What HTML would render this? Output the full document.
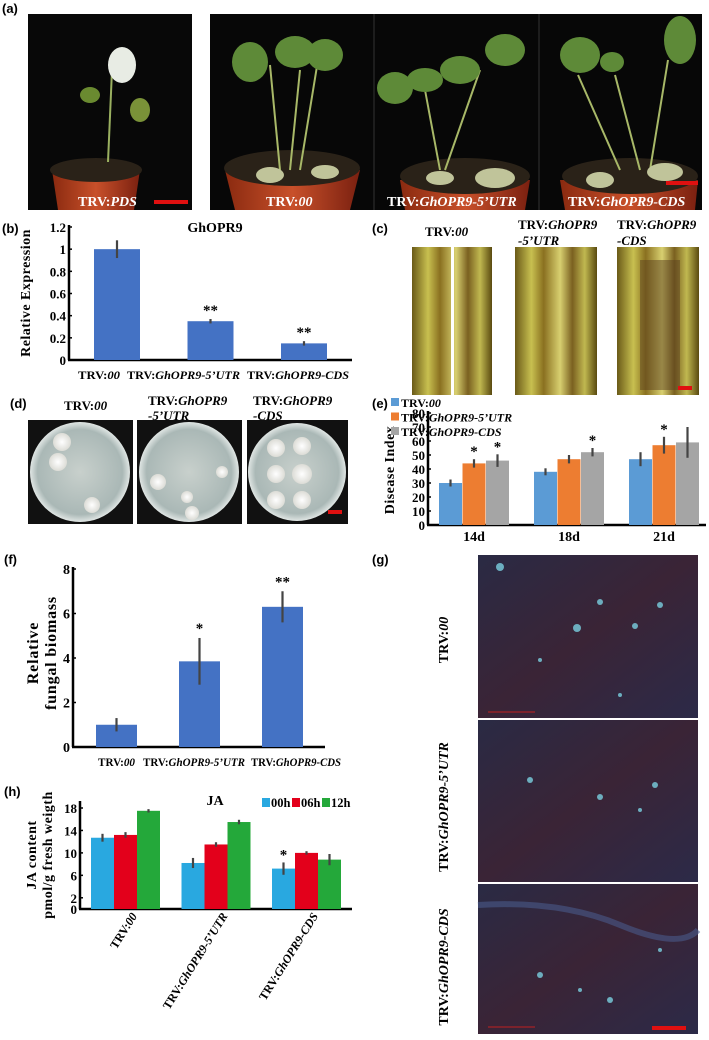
<!DOCTYPE html>
<html><head><meta charset="utf-8"><style>
html,body{margin:0;padding:0;background:#fff}
svg{display:block}
.pl{font-family:"Liberation Sans",sans-serif;font-weight:bold;font-size:13px}
.sr{font-family:"Liberation Serif",serif;font-weight:bold}
</style></head><body>
<svg id="fig" width="709" height="1040" viewBox="0 0 709 1040" xmlns="http://www.w3.org/2000/svg">
<defs>
<linearGradient id="pot" x1="0" x2="1"><stop offset="0" stop-color="#8a2a10"/><stop offset=".5" stop-color="#c8502a"/><stop offset="1" stop-color="#7a2010"/></linearGradient>
<linearGradient id="stem" x1="0" x2="1"><stop offset="0" stop-color="#6a5a18"/><stop offset=".2" stop-color="#c8c050"/><stop offset=".35" stop-color="#8a7020"/><stop offset=".55" stop-color="#d8d070"/><stop offset=".7" stop-color="#7a6020"/><stop offset=".85" stop-color="#c0b850"/><stop offset="1" stop-color="#5a4a10"/></linearGradient>
<radialGradient id="plate"><stop offset="0" stop-color="#c8d0cc"/><stop offset=".85" stop-color="#aab8b6"/><stop offset="1" stop-color="#e0e6e4"/></radialGradient>
<radialGradient id="myc"><stop offset="0" stop-color="#fff"/><stop offset="1" stop-color="#dcdcd6"/></radialGradient>
<linearGradient id="micro" x1="0" y1="0" x2="1" y2="1"><stop offset="0" stop-color="#2a2a44"/><stop offset=".5" stop-color="#3a2436"/><stop offset="1" stop-color="#2c2a48"/></linearGradient>
</defs>

<!-- (a) -->
<text class="pl" x="2" y="13">(a)</text>
<g>
<rect x="28" y="14" width="164" height="196" fill="#080808"/>
<path d="M52 170 L140 170 L134 210 L58 210 Z" fill="url(#pot)"/>
<ellipse cx="96" cy="170" rx="46" ry="12" fill="#2a2218"/>
<line x1="108" y1="162" x2="112" y2="70" stroke="#9ab060" stroke-width="2"/>
<ellipse cx="122" cy="65" rx="14" ry="18" fill="#e8ece4"/>
<ellipse cx="90" cy="95" rx="10" ry="8" fill="#6a8a30"/>
<ellipse cx="140" cy="110" rx="10" ry="12" fill="#7a9238"/>
<text x="78" y="206" font-family="Liberation Serif" font-size="14" font-weight="bold" fill="#fff">TRV:<tspan font-style="italic">PDS</tspan></text>
<rect x="154" y="200" width="34" height="4" fill="#e01010"/>
</g>
<g>
<rect x="210" y="14" width="492" height="196" fill="#070707"/>
<line x1="374" y1="14" x2="374" y2="210" stroke="#333"/>
<line x1="539" y1="14" x2="539" y2="210" stroke="#333"/>
<path d="M225 170 L360 170 L350 210 L235 210 Z" fill="url(#pot)"/>
<ellipse cx="292" cy="168" rx="68" ry="18" fill="#2a2218"/>
<path d="M400 180 L530 180 L525 210 L405 210 Z" fill="url(#pot)"/>
<ellipse cx="465" cy="176" rx="65" ry="18" fill="#2a2218"/>
<path d="M560 180 L698 180 L695 210 L565 210 Z" fill="url(#pot)"/>
<ellipse cx="630" cy="176" rx="68" ry="18" fill="#2a2218"/>
<g stroke="#a8b868" stroke-width="2"><line x1="280" y1="170" x2="270" y2="65"/><line x1="290" y1="170" x2="300" y2="70"/><line x1="300" y1="170" x2="318" y2="60"/><line x1="440" y1="170" x2="425" y2="90"/><line x1="445" y1="170" x2="480" y2="70"/><line x1="620" y1="170" x2="578" y2="75"/><line x1="640" y1="170" x2="615" y2="75"/><line x1="650" y1="170" x2="668" y2="60"/></g>
<g fill="#5e8a38"><ellipse cx="250" cy="62" rx="18" ry="20"/><ellipse cx="295" cy="52" rx="20" ry="16"/><ellipse cx="325" cy="55" rx="18" ry="16"/><ellipse cx="395" cy="88" rx="18" ry="16"/><ellipse cx="425" cy="80" rx="18" ry="12"/><ellipse cx="460" cy="70" rx="20" ry="14"/><ellipse cx="505" cy="50" rx="20" ry="16"/><ellipse cx="580" cy="55" rx="20" ry="18"/><ellipse cx="612" cy="62" rx="12" ry="10"/><ellipse cx="680" cy="40" rx="16" ry="24"/></g>
<g fill="#c0c49a"><ellipse cx="270" cy="175" rx="14" ry="8"/><ellipse cx="325" cy="172" rx="14" ry="7"/><ellipse cx="440" cy="178" rx="14" ry="7"/><ellipse cx="495" cy="178" rx="20" ry="10"/><ellipse cx="665" cy="172" rx="18" ry="9"/><ellipse cx="600" cy="180" rx="14" ry="8"/></g>
<text x="266" y="206" font-family="Liberation Serif" font-size="14" font-weight="bold" fill="#fff">TRV:<tspan font-style="italic">00</tspan></text>
<text x="387" y="206" font-family="Liberation Serif" font-size="14" font-weight="bold" fill="#fff">TRV:<tspan font-style="italic">GhOPR9-5’UTR</tspan></text>
<text x="568" y="206" font-family="Liberation Serif" font-size="14" font-weight="bold" fill="#fff">TRV:<tspan font-style="italic">GhOPR9-CDS</tspan></text>
<rect x="666" y="181" width="32" height="4" fill="#e01010"/>
</g>

<!-- (b) -->
<text class="pl" x="2" y="233">(b)</text>
<g id="chartB"></g>

<!-- (c) -->
<text class="pl" x="372" y="233">(c)</text>
<g class="sr" font-size="13">
<text x="425" y="236">TRV:<tspan font-style="italic">00</tspan></text>
<text x="518" y="229">TRV:<tspan font-style="italic">GhOPR9</tspan></text>
<text x="518" y="245" font-style="italic">-5’UTR</text>
<text x="617" y="229">TRV:<tspan font-style="italic">GhOPR9</tspan></text>
<text x="617" y="245" font-style="italic">-CDS</text>
</g>
<g>
<rect x="412" y="247" width="80" height="148" fill="url(#stem)"/>
<rect x="451" y="247" width="3" height="148" fill="#fff"/>
<rect x="515" y="247" width="82" height="148" fill="url(#stem)"/>
<rect x="617" y="247" width="82" height="148" fill="url(#stem)"/>
<rect x="640" y="260" width="40" height="130" fill="#5a4020" opacity=".5"/>
<rect x="678" y="386" width="14" height="4" fill="#e01010"/>
</g>

<!-- (d) -->
<text class="pl" x="10" y="408">(d)</text>
<g class="sr" font-size="13">
<text x="64" y="410">TRV:<tspan font-style="italic">00</tspan></text>
<text x="148" y="405">TRV:<tspan font-style="italic">GhOPR9</tspan></text>
<text x="148" y="420" font-style="italic">-5’UTR</text>
<text x="253" y="405">TRV:<tspan font-style="italic">GhOPR9</tspan></text>
<text x="253" y="420" font-style="italic">-CDS</text>
</g>
<g>
<rect x="28" y="420" width="105" height="104" fill="#111"/>
<rect x="137" y="420" width="105" height="104" fill="#111"/>
<rect x="247" y="420" width="101" height="104" fill="#111"/>
<circle cx="80" cy="472" r="50" fill="url(#plate)"/>
<circle cx="189" cy="472" r="50" fill="url(#plate)"/>
<circle cx="297" cy="472" r="49" fill="url(#plate)"/>
<g fill="url(#myc)"><circle cx="62" cy="442" r="9"/><circle cx="58" cy="462" r="9"/><circle cx="92" cy="505" r="8"/><circle cx="158" cy="482" r="8"/><circle cx="187" cy="497" r="6"/><circle cx="222" cy="472" r="6"/><circle cx="192" cy="513" r="7"/><circle cx="276" cy="448" r="9"/><circle cx="302" cy="446" r="9"/><circle cx="276" cy="474" r="9"/><circle cx="302" cy="474" r="10"/><circle cx="276" cy="500" r="9"/><circle cx="302" cy="500" r="9"/></g>
<rect x="328" y="510" width="14" height="4" fill="#e01010"/>
</g>

<!-- (e) -->
<text class="pl" x="372" y="408">(e)</text>
<g id="chartE"></g>

<!-- (f) -->
<text class="pl" x="4" y="564">(f)</text>
<g id="chartF"></g>

<!-- (g) -->
<text class="pl" x="372" y="564">(g)</text>
<g>
<rect x="478" y="555" width="220" height="163" fill="url(#micro)"/>
<rect x="478" y="720" width="220" height="162" fill="url(#micro)"/>
<rect x="478" y="884" width="220" height="150" fill="url(#micro)"/>
<g fill="#7ad0e0" opacity=".8"><circle cx="500" cy="567" r="4"/><circle cx="577" cy="628" r="4"/><circle cx="600" cy="602" r="3"/><circle cx="635" cy="626" r="3"/><circle cx="660" cy="605" r="3"/><circle cx="540" cy="660" r="2"/><circle cx="620" cy="695" r="2"/><circle cx="530" cy="780" r="3"/><circle cx="600" cy="797" r="3"/><circle cx="655" cy="785" r="3"/><circle cx="640" cy="810" r="2"/><circle cx="540" cy="975" r="3"/><circle cx="610" cy="1000" r="3"/><circle cx="580" cy="990" r="2"/><circle cx="660" cy="950" r="2"/></g>
<path d="M478 905 Q560 900 620 925 T698 930" stroke="#4a5a8a" stroke-width="6" fill="none" opacity=".6"/>
<rect x="652" y="1026" width="34" height="4" fill="#e01010"/>
<line x1="488" y1="712" x2="535" y2="712" stroke="#c02020"/>
<line x1="488" y1="1027" x2="535" y2="1027" stroke="#c02020"/>
</g>
<g class="sr" font-size="14">
<text transform="translate(448,640) rotate(-90)" text-anchor="middle">TRV:<tspan font-style="italic">00</tspan></text>
<text transform="translate(448,807) rotate(-90)" text-anchor="middle">TRV:<tspan font-style="italic">GhOPR9-5’UTR</tspan></text>
<text transform="translate(448,967) rotate(-90)" text-anchor="middle">TRV:<tspan font-style="italic">GhOPR9-CDS</tspan></text>
</g>

<!-- (h) -->
<text class="pl" x="4" y="796">(h)</text>
<g id="chartH"></g>
</svg>
<script>
// ---- chart (b) data
const bCategories = ["00", "GhOPR9-5’UTR", "GhOPR9-CDS"];
const bValues = [1.0, 0.35, 0.15];
const bErrors = [0.08, 0.02, 0.02];
const bStars = ["", "**", "**"];
const bTicks = [0, 0.2, 0.4, 0.6, 0.8, 1, 1.2];
// ---- chart (e) data
const eCategories = ["14d", "18d", "21d"];
const eSeries = ["00", "GhOPR9-5’UTR", "GhOPR9-CDS"];
const eTrv00 = [30, 38, 47];
const eUtr = [44, 47, 57];
const eCds = [46, 52, 59];
const eTrv00Err = [2.5, 2.5, 5];
const eUtrErr = [3, 3, 6];
const eCdsErr = [4.5, 3, 11];
const eStarsUtr = ["*", "", "*"];
const eStarsCds = ["*", "*", ""];
const eTicks = [0, 10, 20, 30, 40, 50, 60, 70, 80];
// ---- chart (f) data
const fCategories = ["00", "GhOPR9-5’UTR", "GhOPR9-CDS"];
const fValues = [1.0, 3.85, 6.3];
const fErrors = [0.3, 1.05, 0.7];
const fStars = ["", "*", "**"];
const fTicks = [0, 2, 4, 6, 8];
// ---- chart (h) data
const hCategories = ["00", "GhOPR9-5’UTR", "GhOPR9-CDS"];
const hSeries = ["00h", "06h", "12h"];
const h00 = [12.7, 8.2, 7.2];
const h06 = [13.2, 11.5, 10.0];
const h12 = [17.5, 15.5, 8.8];
const h00Err = [0.7, 0.9, 1.1];
const h06Err = [0.5, 0.4, 0.3];
const h12Err = [0.3, 0.4, 1.0];
const hStars00 = ["", "", "*"];
const hTicks = [0, 2, 6, 10, 14, 18];

const NS = "http://www.w3.org/2000/svg";
function mk(tag, attrs, parent) {
  const e = document.createElementNS(NS, tag);
  for (const k in attrs) e.setAttribute(k, attrs[k]);
  parent.appendChild(e);
  return e;
}
function trvLabel(parent, x, y, cat, size, anchor, transform, len) {
  const t = mk('text', {x: x, y: y, 'font-family': 'Liberation Serif', 'font-weight': 'bold', 'font-size': size, 'text-anchor': anchor}, parent);
  if (transform) t.setAttribute('transform', transform);
  if (len) { t.setAttribute('textLength', len); t.setAttribute('lengthAdjust', 'spacingAndGlyphs'); }
  
  
  t.appendChild(document.createTextNode('TRV:'));
  const s = mk('tspan', {'font-style': 'italic'}, t);
  s.textContent = cat;
  return t;
}
function axes(g, x0, y0, x1, yTop, ticks, yFn, fs) {
  const ya = mk('line', {x1: x0, y1: yTop - 2, x2: x0, y2: y0, stroke: '#000', 'stroke-width': 2.5}, g);
  
  
  const xa = mk('line', {x1: x0 - 1, y1: y0, x2: x1, y2: y0, stroke: '#000', 'stroke-width': 2.5}, g);
  
  
  ticks.forEach(v => {
    const t = mk('text', {x: x0 - 3, y: yFn(v) + 5, 'text-anchor': 'end', 'font-family': 'Liberation Serif', 'font-weight': 'bold', 'font-size': fs}, g);
    t.textContent = String(v);
    
    
    mk('line', {x1: x0, y1: yFn(v), x2: x0 + 3, y2: yFn(v), stroke: '#000', 'stroke-width': 1.5}, g);
  });
}
function bar(g, x, w, v, err, yFn, color, name) {
  const r = mk('rect', {x: x, y: yFn(v), width: w, height: yFn(0) - yFn(v), fill: color}, g);
  
  
  const e = mk('line', {x1: x + w / 2, y1: yFn(v + err), x2: x + w / 2, y2: yFn(v - err), stroke: '#444', 'stroke-width': 2.2}, g);
  
  
}
function star(g, x, y, s, fs) {
  if (!s) return;
  const t = mk('text', {x: x, y: y, 'text-anchor': 'middle', 'font-family': 'Liberation Serif', 'font-weight': 'bold', 'font-size': fs}, g);
  t.textContent = s;
  
  
}

// ---- draw (b)
(function () {
  const g = document.getElementById('chartB');
  const y = v => 360 - v * (133 / 1.2);
  axes(g, 69, 360, 352, 227, bTicks, y, 13);
  const t = mk('text', {x: 215, y: 232, 'text-anchor': 'middle', 'font-family': 'Liberation Serif', 'font-weight': 'bold', 'font-size': 14}, g);
  t.textContent = 'GhOPR9';
  
  
  const yt = mk('text', {transform: 'translate(30,293) rotate(-90)', 'text-anchor': 'middle', 'font-family': 'Liberation Serif', 'font-weight': 'bold', 'font-size': 14, 'letter-spacing': '0.5'}, g);
  yt.textContent = 'Relative Expression';
  
  
  const labX = [78, 127, 247];
  const labW = [42, 113, 102];
  bCategories.forEach((c, i) => {
    const cx = 117 + i * 93.5;
    bar(g, cx - 23, 46, bValues[i], bErrors[i], y, '#4472c4', 'bar-b');
    star(g, cx, y(bValues[i] + bErrors[i]) - 4, bStars[i], 15);
    trvLabel(g, labX[i], 379, c, 12, 'start', null, labW[i]);
  });
})();

// ---- draw (e)
(function () {
  const g = document.getElementById('chartE');
  const y = v => 525 - v * (112 / 80);
  axes(g, 428, 525, 706, 413, eTicks, y, 13);
  const yt = mk('text', {transform: 'translate(394,470) rotate(-90)', 'text-anchor': 'middle', 'font-family': 'Liberation Serif', 'font-weight': 'bold', 'font-size': 14, 'letter-spacing': '0.5'}, g);
  yt.textContent = 'Disease Index';
  
  
  const cols = ['#5b9bd5', '#ed7d31', '#a5a5a5'];
  const vals = [eTrv00, eUtr, eCds];
  const errs = [eTrv00Err, eUtrErr, eCdsErr];
  eSeries.forEach((s, k) => {
    const ly = 407 + k * 14.5;
    const sq = mk('rect', {x: 391, y: ly - 9, width: 8, height: 8, fill: cols[k]}, g);
    
    
    const lt = trvLabel(g, 401, ly, s, 12, 'start');
    
  });
  eCategories.forEach((c, i) => {
    const cx = 474 + i * 95;
    for (let k = 0; k < 3; k++) {
      bar(g, cx - 35 + k * 23.5, 23, vals[k][i], errs[k][i], y, cols[k], 'bar-e');
    }
    star(g, cx - 35 + 23.5 + 11.5, y(eUtr[i] + eUtrErr[i]) - 3, eStarsUtr[i], 15);
    star(g, cx - 35 + 47 + 11.5, y(eCds[i] + eCdsErr[i]) - 3, eStarsCds[i], 15);
    const t = mk('text', {x: cx, y: 541, 'text-anchor': 'middle', 'font-family': 'Liberation Serif', 'font-weight': 'bold', 'font-size': 14}, g);
    t.textContent = c;
    
    
  });
})();

// ---- draw (f)
(function () {
  const g = document.getElementById('chartF');
  const y = v => 747 - v * (178 / 8);
  axes(g, 73, 747, 325, 569, fTicks, y, 14);
  const t1 = mk('text', {transform: 'translate(38,653) rotate(-90)', 'text-anchor': 'middle', 'font-family': 'Liberation Serif', 'font-weight': 'bold', 'font-size': 16, 'letter-spacing': '0.8'}, g);
  t1.textContent = 'Relative';
  
  
  const t2 = mk('text', {transform: 'translate(56,653) rotate(-90)', 'text-anchor': 'middle', 'font-family': 'Liberation Serif', 'font-weight': 'bold', 'font-size': 16, 'letter-spacing': '0.8'}, g);
  t2.textContent = 'fungal biomass';
  
  
  const labX = [98, 143, 251];
  const labW = [37, 102, 90];
  fCategories.forEach((c, i) => {
    const cx = 116.5 + i * 83;
    bar(g, cx - 20.5, 41, fValues[i], fErrors[i], y, '#4472c4', 'bar-f');
    star(g, cx, y(fValues[i] + fErrors[i]) - 5, fStars[i], 15);
    trvLabel(g, labX[i], 766, c, 12, 'start', null, labW[i]);
  });
})();

// ---- draw (h)
(function () {
  const g = document.getElementById('chartH');
  const y = v => 909 - v * (101 / 18);
  axes(g, 80, 909, 352, 803, hTicks, y, 13);
  const t1 = mk('text', {transform: 'translate(36,855) rotate(-90)', 'text-anchor': 'middle', 'font-family': 'Liberation Serif', 'font-weight': 'bold', 'font-size': 14, 'letter-spacing': '0.5'}, g);
  t1.textContent = 'JA content';
  
  
  const t2 = mk('text', {transform: 'translate(52,855) rotate(-90)', 'text-anchor': 'middle', 'font-family': 'Liberation Serif', 'font-weight': 'bold', 'font-size': 14, 'letter-spacing': '0.5'}, g);
  t2.textContent = 'pmol/g fresh weigth';
  
  
  const tt = mk('text', {x: 215, y: 805, 'text-anchor': 'middle', 'font-family': 'Liberation Serif', 'font-weight': 'bold', 'font-size': 14}, g);
  tt.textContent = 'JA';
  
  
  const cols = ['#29a8e0', '#e3001b', '#24a83a'];
  const vals = [h00, h06, h12];
  const errs = [h00Err, h06Err, h12Err];
  hSeries.forEach((s, k) => {
    const lx = 262 + k * 30;
    const sq = mk('rect', {x: lx, y: 798, width: 8, height: 9, fill: cols[k]}, g);
    
    
    const lt = mk('text', {x: lx + 9, y: 807, 'font-family': 'Liberation Serif', 'font-weight': 'bold', 'font-size': 12.5}, g);
    lt.textContent = s;
    
    
  });
  hCategories.forEach((c, i) => {
    const cx = 125.5 + i * 90.5;
    for (let k = 0; k < 3; k++) {
      bar(g, cx - 34.5 + k * 23, 23, vals[k][i], errs[k][i], y, cols[k], 'bar-h');
    }
    star(g, cx - 23, y(h00[i] + h00Err[i]) - 3, hStars00[i], 15);
    const ax = cx + 12, ay = 916;
    trvLabel(g, ax, ay, c, 12, 'end', 'rotate(-58 ' + ax + ' ' + ay + ')');
  });
})();
</script>
</body></html>
